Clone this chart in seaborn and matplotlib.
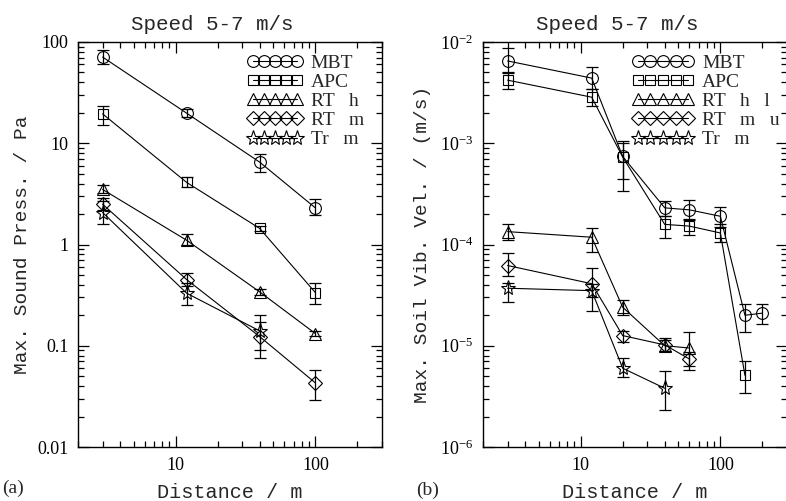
import numpy as np
import pandas as pd
import matplotlib
matplotlib.use("Agg")
import matplotlib.pyplot as plt
from matplotlib import ticker
import seaborn as sns

sns.set_theme(style="ticks")
plt.rcParams.update({
    "font.family": ["Liberation Serif", "DejaVu Serif"],
    "mathtext.fontset": "custom",
    "mathtext.rm": "Liberation Serif",
    "mathtext.it": "Liberation Serif:italic",
    "mathtext.default": "regular",
    "axes.linewidth": 1.0,
    "axes.edgecolor": "black",
    "xtick.color": "black",
    "ytick.color": "black",
})

MONO = ["Liberation Mono", "DejaVu Sans Mono"]

# ---------------- panel (a): maximum sound pressure (Pa) ----------------
a_labels = ["MBT", "APC", "RT   h", "RT   m", "Tr   m"]
a_dist = [
    [3, 12, 40, 100],
    [3, 12, 40, 100],
    [3, 12, 40, 100],
    [3, 12, 40, 100],
    [3, 12, 40],
]
a_value = [
    [71, 19.8, 6.5, 2.3],
    [19.5, 4.1, 1.44, 0.335],
    [3.5, 1.1, 0.34, 0.132],
    [2.5, 0.45, 0.123, 0.043],
    [2.07, 0.33, 0.14],
]
a_low = [
    [61, 18.0, 5.2, 1.95],
    [15.0, 3.7, 1.36, 0.26],
    [3.2, 0.98, 0.32, 0.125],
    [2.2, 0.39, 0.075, 0.029],
    [1.58, 0.25, 0.09],
]
a_high = [
    [84, 22.0, 7.9, 2.8],
    [23.5, 4.6, 1.52, 0.42],
    [3.9, 1.26, 0.36, 0.14],
    [2.9, 0.52, 0.17, 0.058],
    [2.7, 0.42, 0.2],
]

# ---------------- panel (b): maximum soil vibration velocity (m/s) ----------------
b_labels = ["MBT", "APC", "RT   h   l", "RT   m   u", "Tr   m"]
b_dist = [
    [3, 12, 20, 40, 60, 100, 150, 200],
    [3, 12, 20, 40, 60, 100, 150],
    [3, 12, 20, 40, 60],
    [3, 12, 20, 40, 60],
    [3, 12, 20, 40],
]
b_value = [
    [6.5e-3, 4.4e-3, 7.4e-4, 2.3e-4, 2.2e-4, 1.9e-4, 2.0e-5, 2.1e-5],
    [4.2e-3, 2.85e-3, 7.3e-4, 1.58e-4, 1.52e-4, 1.3e-4, 5.1e-6],
    [1.34e-4, 1.18e-4, 2.4e-5, 1.0e-5, 9.5e-6],
    [6.2e-5, 4.1e-5, 1.26e-5, 1.02e-5, 7.4e-6],
    [3.7e-5, 3.5e-5, 6.0e-6, 3.8e-6],
]
b_low = [
    [4.9e-3, 3.4e-3, 3.4e-4, 1.9e-4, 1.75e-4, 1.5e-4, 1.37e-5, 1.65e-5],
    [3.4e-3, 2.35e-3, 4.4e-4, 1.17e-4, 1.25e-4, 1.05e-4, 3.4e-6],
    [1.1e-4, 8.5e-5, 2.0e-5, 8.8e-6, 6.3e-6],
    [4.9e-5, 3.0e-5, 1.1e-5, 8.8e-6, 5.8e-6],
    [2.7e-5, 2.2e-5, 4.9e-6, 2.3e-6],
]
b_high = [
    [8.7e-3, 5.6e-3, 1.05e-3, 2.7e-4, 2.75e-4, 2.35e-4, 2.6e-5, 2.6e-5],
    [5.1e-3, 3.4e-3, 1.0e-3, 1.9e-4, 1.8e-4, 1.6e-4, 7.0e-6],
    [1.6e-4, 1.45e-4, 2.8e-5, 1.2e-5, 1.37e-5],
    [8.3e-5, 5.9e-5, 1.4e-5, 1.15e-5, 8.7e-6],
    [4.2e-5, 4.1e-5, 7.5e-6, 5.6e-6],
]

markers = ["o", "s", "^", "D", "*"]
marker_sizes = [8.5, 7.5, 8.5, 7.5, 11]

fig = plt.figure(figsize=(7.86, 5.01), dpi=100)
ax_a = fig.add_axes([78 / 786, 54 / 501, 304 / 786, 405 / 501])
ax_b = fig.add_axes([483 / 786, 54 / 501, 304 / 786, 405 / 501])


def draw_panel(ax, labels, dists, values, lows, highs):
    for lab, x, y, lo, hi, m, ms in zip(labels, dists, values, lows, highs,
                                         markers, marker_sizes):
        df = pd.DataFrame({"dist": x, "val": y})
        sns.lineplot(data=df, x="dist", y="val", ax=ax, color="black",
                     linewidth=0.8, marker=m, markersize=ms,
                     markerfacecolor="none", markeredgecolor="black",
                     markeredgewidth=0.8, label=lab, legend=False,
                     estimator=None, sort=False)
        y_arr = np.asarray(y)
        yerr = [y_arr - np.asarray(lo), np.asarray(hi) - y_arr]
        ax.errorbar(x, y, yerr=yerr, fmt="none", ecolor="black",
                    elinewidth=0.9, capsize=4.5, capthick=0.9)


draw_panel(ax_a, a_labels, a_dist, a_value, a_low, a_high)
draw_panel(ax_b, b_labels, b_dist, b_value, b_low, b_high)

for ax in (ax_a, ax_b):
    ax.set_xscale("log")
    ax.set_yscale("log")
    ax.set_xlim(2, 300)
    ax.xaxis.set_major_locator(ticker.FixedLocator([10, 100]))
    ax.xaxis.set_minor_locator(ticker.LogLocator(base=10, subs=np.arange(2, 10)))
    ax.xaxis.set_major_formatter(ticker.FuncFormatter(lambda v, p: f"{v:g}"))
    ax.xaxis.set_minor_formatter(ticker.NullFormatter())
    ax.yaxis.set_minor_locator(ticker.LogLocator(base=10, subs=np.arange(2, 10), numticks=20))
    ax.yaxis.set_minor_formatter(ticker.NullFormatter())
    ax.tick_params(which="both", direction="in", top=True, right=True,
                   labelsize=13, width=0.9, pad=7)
    ax.tick_params(which="major", length=8)
    ax.tick_params(which="minor", length=4)
    for sp in ax.spines.values():
        sp.set_visible(True)
        sp.set_linewidth(1.0)
    ax.set_title("Speed 5-7 m/s", family=MONO, fontsize=15, pad=9, x=0.443)
    ax.set_xlabel("Distance / m", family=MONO, fontsize=14.5, labelpad=7)
    ax.legend(loc="upper left", frameon=False, numpoints=5,
              fontsize=14, borderpad=0, borderaxespad=0,
              labelspacing=0.08, handletextpad=0.4,
              handlelength=2.9 if ax is ax_a else 3.2,
              bbox_to_anchor=(0.555 if ax is ax_a else 0.49, 0.97))

ax_a.set_ylim(0.01, 100)
ax_a.yaxis.set_major_locator(ticker.FixedLocator([0.01, 0.1, 1, 10, 100]))
ax_a.yaxis.set_major_formatter(ticker.FuncFormatter(lambda v, p: f"{v:g}"))
ax_a.set_ylabel("Max. Sound Press. / Pa", family=MONO, fontsize=14)
ax_a.yaxis.set_label_coords(-0.155, 0.5)

ax_b.set_ylim(1e-6, 1e-2)
ax_b.yaxis.set_major_locator(ticker.LogLocator(base=10, numticks=10))
ax_b.yaxis.set_major_formatter(ticker.LogFormatterMathtext())
ax_b.set_ylabel("Max. Soil Vib. Vel. / (m/s)", family=MONO, fontsize=14)
ax_b.yaxis.set_label_coords(-0.17, 0.5)

fig.text(2 / 786, 1 - 488 / 501, "(a)", fontsize=14, va="center", ha="left")
fig.text(416 / 786, 1 - 490 / 501, "(b)", fontsize=14, va="center", ha="left")

fig.savefig("out.png", dpi=100)
